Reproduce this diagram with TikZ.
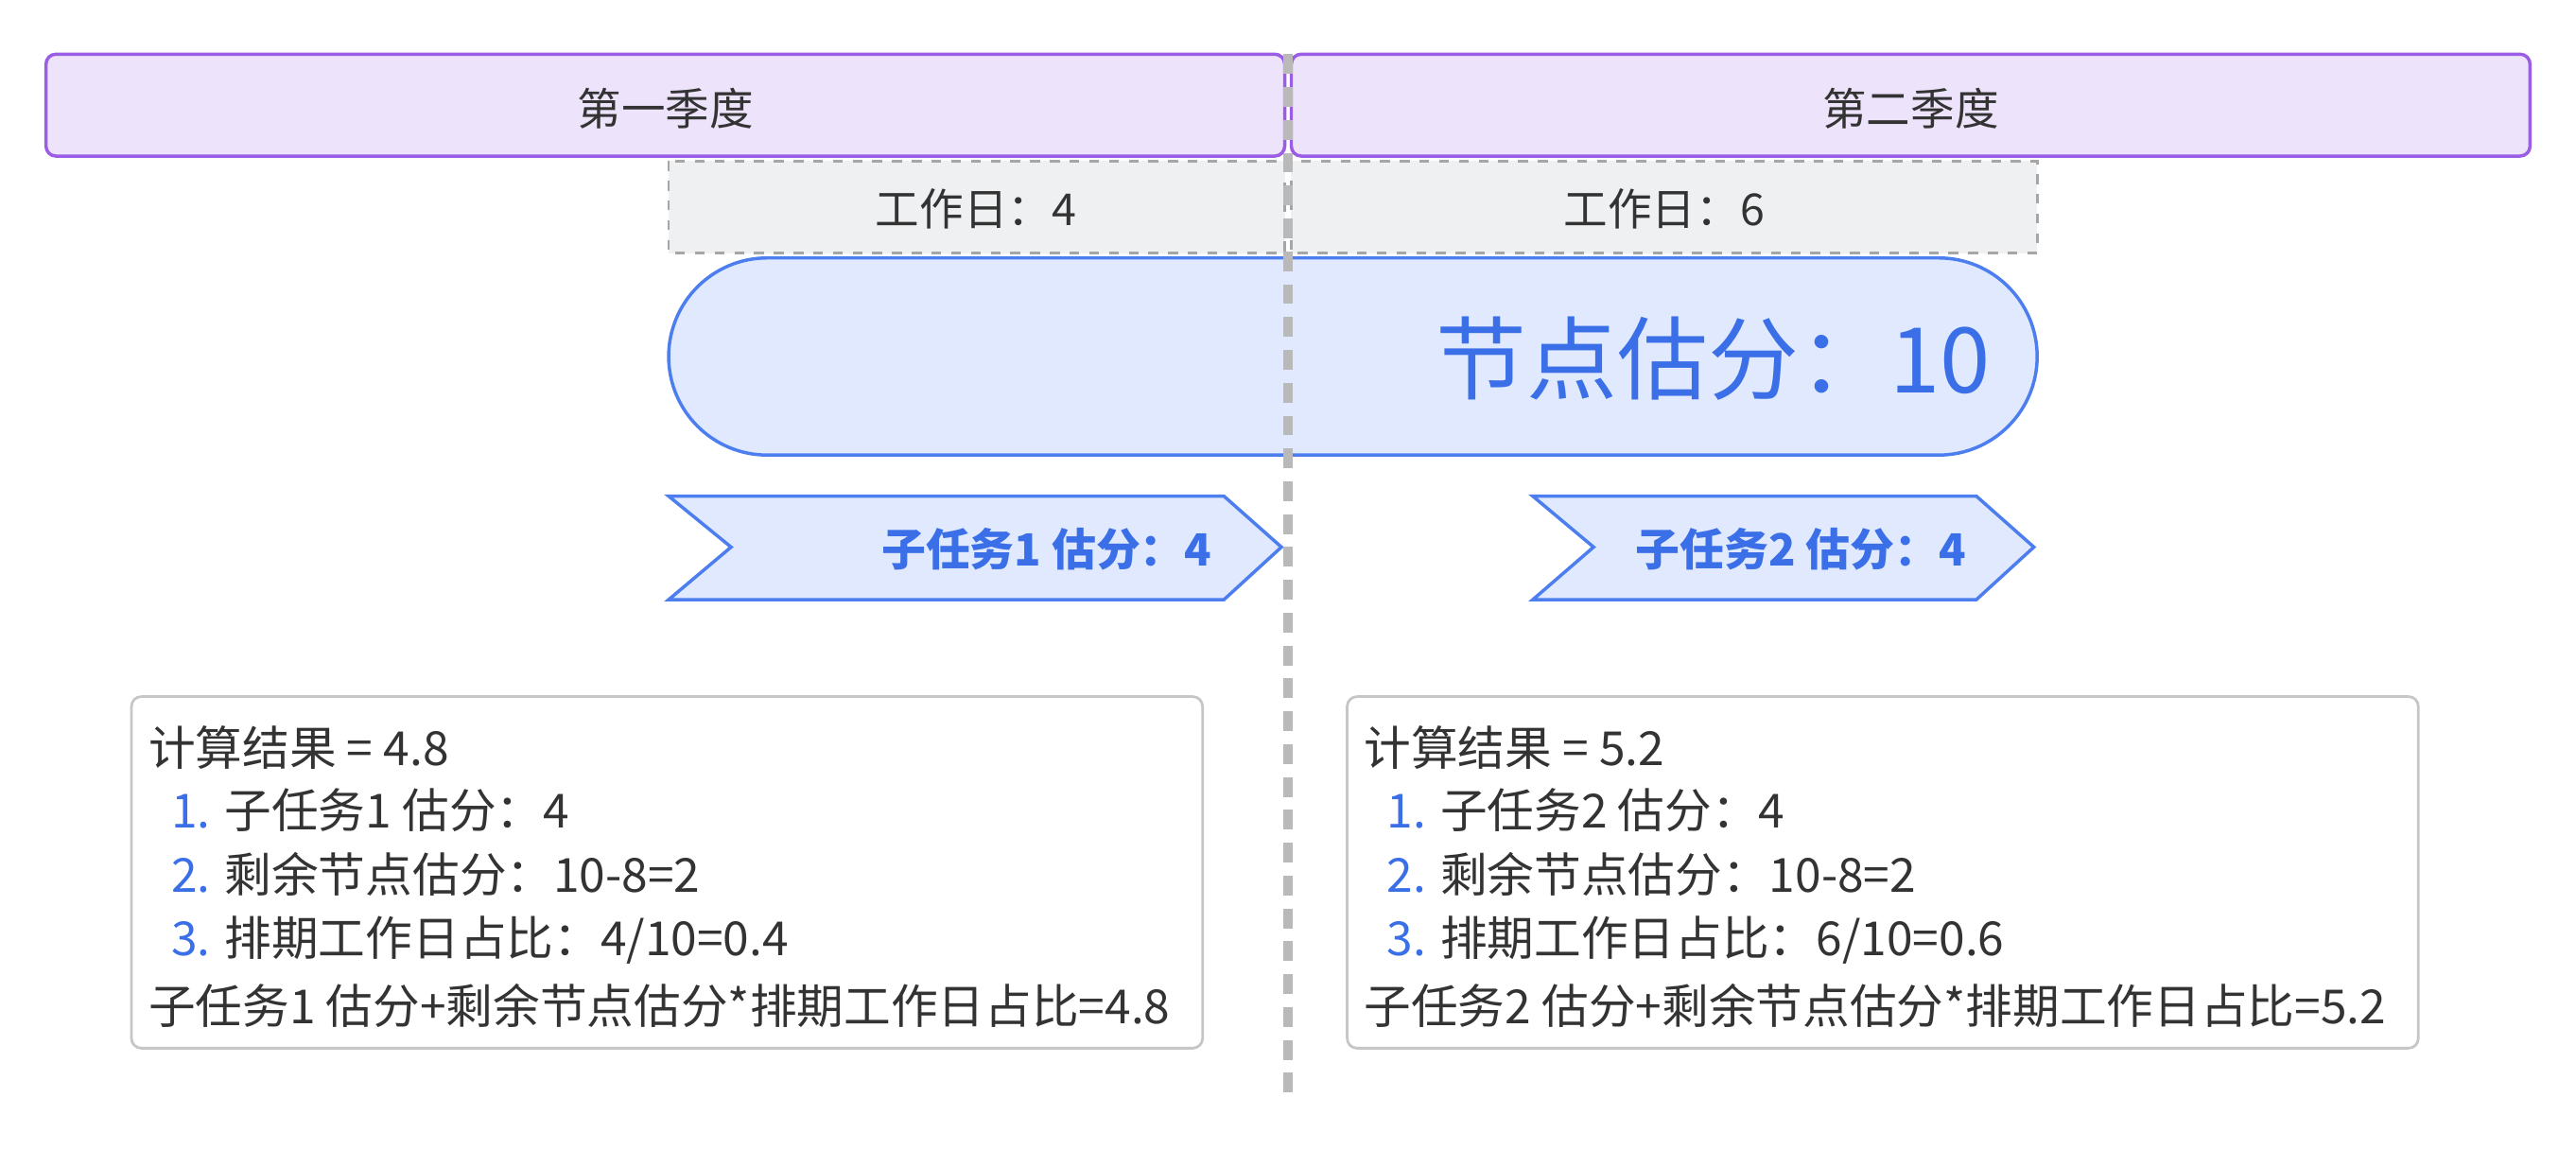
\documentclass[tikz,border=0pt]{standalone}
\usepackage{fontspec}
\setmainfont{Noto Sans CJK SC}
\usetikzlibrary{positioning}
\definecolor{lav}{HTML}{EDE3FB}
\definecolor{purp}{HTML}{9B5DE5}
\definecolor{grayfill}{HTML}{EFF0F1}
\definecolor{pillfill}{HTML}{E0E9FD}
\definecolor{blueline}{HTML}{4D7EF0}
\definecolor{bluetext}{HTML}{3B6FE8}
\definecolor{txt}{HTML}{333333}
\tikzset{%
  quarter/.style = {draw=purp, fill=lav, line width=1pt, rounded corners=3pt},%
  workday/.style = {draw=gray!70, dashed, fill=grayfill, line width=0.8pt},%
  pill/.style    = {draw=blueline, fill=pillfill, line width=1pt, rounded corners=30pt},%
  chev/.style    = {draw=blueline, fill=pillfill, line width=1pt},%
  calc/.style    = {draw=gray!45, fill=white, line width=0.8pt, rounded corners=3pt},%
  lbl/.style     = {font=\fontsize{13.4}{16}\selectfont, text=txt, inner sep=0pt},%
  line/.style    = {lbl, anchor=west, font=\fontsize{14.3}{17}\selectfont},%
  sub/.style     = {lbl, anchor=east, text=bluetext, font=\bfseries\fontsize{13.5}{16}\selectfont}%
}
\begin{document}
\begin{tikzpicture}[x=0.5pt,y=-0.5pt]
  \useasboundingbox (0,0) rectangle (1568,710);
  % quarters
  \draw[quarter] (28,33) rectangle (782,95);
  \node[lbl] (q1) at (405,66) {第一季度};
  \draw[quarter] (786,33) rectangle (1540,95);
  \node[lbl] (q2) at (1163,66) {第二季度};
  % workdays
  \draw[workday] (407,98) rectangle (782,154);
  \node[lbl] (w1) at (594,127) {工作日：4};
  \draw[workday] (786,98) rectangle (1240,154);
  \node[lbl] (w2) at (1013,127) {工作日：6};
  % node estimate
  \draw[pill] (407,157) rectangle (1240,277);
  \node[lbl, anchor=east, text=bluetext, font=\fontsize{27.6}{31}\selectfont] (est) at (1212,218) {节点估分：10};
  % subtasks
  \draw[chev] (407,302) -- (745,302) -- (780,333) -- (745,365) -- (407,365) -- (445,333) -- cycle;
  \node[sub] (s1) at (738,334) {子任务1 估分：4};
  \draw[chev] (933,302) -- (1203,302) -- (1238,333) -- (1203,365) -- (933,365) -- (970,333) -- cycle;
  \node[sub] (s2) at (1197,334) {子任务2 估分：4};
  % divider
  \coordinate (dtop) at (784,33);
  \coordinate (dbot) at (784,672);
  \draw[gray!55, line width=3pt, dash pattern=on 6pt off 4pt] (dtop) -- (dbot);
  % calculation boxes
  \draw[calc] (80,424) rectangle (732,638);
  \node[line] (a0) at (90,455) {计算结果 = 4.8};
  \node[line] (a1) at (104,493) {\textcolor{bluetext}{1.} 子任务1 估分：4};
  \node[line] (a2) at (104,532) {\textcolor{bluetext}{2.} 剩余节点估分：10-8=2};
  \node[line] (a3) at (104,572) {\textcolor{bluetext}{3.} 排期工作日占比：4/10=0.4};
  \node[line] (a4) at (90,612) {子任务1 估分+剩余节点估分*排期工作日占比=4.8};
  \draw[calc] (820,424) rectangle (1472,638);
  \node[line] (b0) at (830,455) {计算结果 = 5.2};
  \node[line] (b1) at (844,493) {\textcolor{bluetext}{1.} 子任务2 估分：4};
  \node[line] (b2) at (844,532) {\textcolor{bluetext}{2.} 剩余节点估分：10-8=2};
  \node[line] (b3) at (844,572) {\textcolor{bluetext}{3.} 排期工作日占比：6/10=0.6};
  \node[line] (b4) at (830,612) {子任务2 估分+剩余节点估分*排期工作日占比=5.2};
\end{tikzpicture}
\end{document}
